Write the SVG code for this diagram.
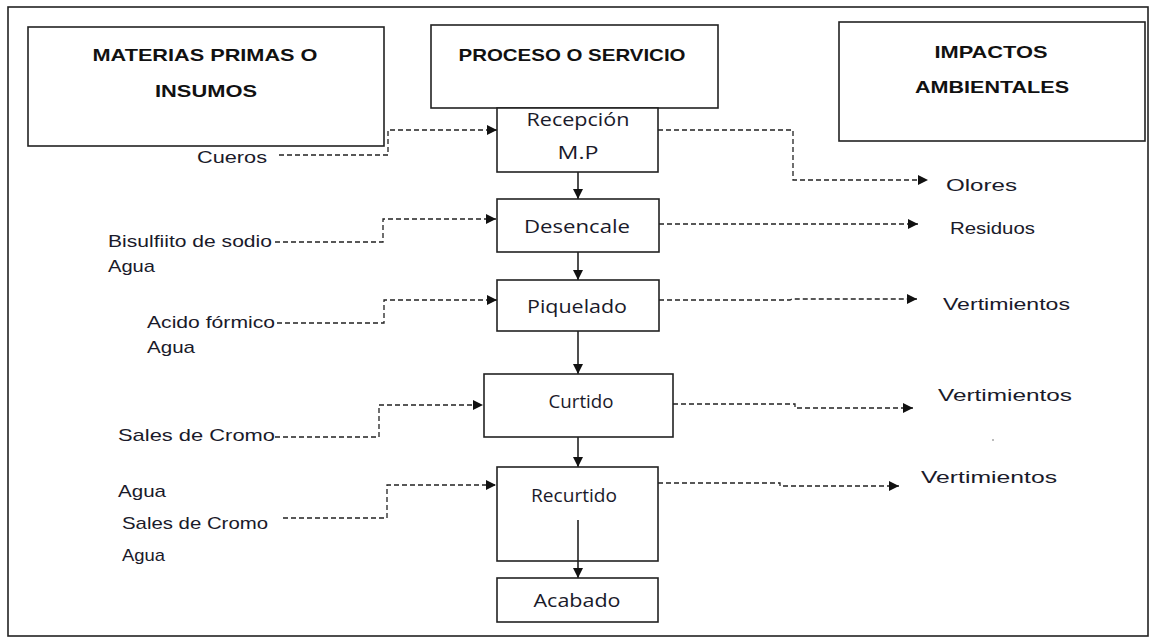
<svg xmlns="http://www.w3.org/2000/svg" width="1156" height="643" viewBox="0 0 1156 643">
<style>
.box{fill:#fff;stroke:#222;stroke-width:1.6}
.hdr{font-family:"Liberation Sans","Noto Sans",sans-serif;font-weight:bold;font-size:17px;fill:#111;text-anchor:middle}
.lbl{font-family:"Open Sans","Liberation Sans",sans-serif;font-size:18px;fill:#1a1a2a;text-anchor:middle}
.txt{font-family:"Liberation Sans","Noto Sans",sans-serif;font-size:17px;fill:#1a1a2a}
.dash{fill:none;stroke:#222;stroke-width:1.3;stroke-dasharray:5,3}
.solid{fill:none;stroke:#222;stroke-width:1.6}
</style>
<defs>
<marker id="ah" viewBox="0 0 10 10" refX="10" refY="5" markerWidth="10" markerHeight="10" markerUnits="userSpaceOnUse" orient="auto">
<path d="M0,0 L10,5 L0,10 Z" fill="#111"/>
</marker>
</defs>
<rect x="0" y="0" width="1156" height="643" fill="#fff"/>
<rect x="8" y="7" width="1140" height="629" fill="none" stroke="#222" stroke-width="1.6"/>

<g id="hdr-materias">
<rect class="box" x="28" y="27" width="356" height="119"/>
<text class="hdr" x="205" y="61" textLength="225" lengthAdjust="spacingAndGlyphs">MATERIAS PRIMAS O</text>
<text class="hdr" x="206" y="97" textLength="102" lengthAdjust="spacingAndGlyphs">INSUMOS</text>
</g>
<g id="hdr-impactos">
<rect class="box" x="839" y="22" width="306" height="119"/>
<text class="hdr" x="991" y="58" textLength="113" lengthAdjust="spacingAndGlyphs">IMPACTOS</text>
<text class="hdr" x="992" y="93" textLength="154" lengthAdjust="spacingAndGlyphs">AMBIENTALES</text>
</g>

<g id="connectors">
<line class="solid" x1="578" y1="172" x2="578" y2="199" marker-end="url(#ah)"/>
<line class="solid" x1="578" y1="252" x2="578" y2="280" marker-end="url(#ah)"/>
<line class="solid" x1="578" y1="331" x2="578" y2="374" marker-end="url(#ah)"/>
<line class="solid" x1="578" y1="437" x2="578" y2="467" marker-end="url(#ah)"/>
<path class="dash" d="M279,155 H388 V130 H497" marker-end="url(#ah)"/>
<path class="dash" d="M275,242 H383 V219 H496" marker-end="url(#ah)"/>
<path class="dash" d="M277,323 H384 V300 H497" marker-end="url(#ah)"/>
<path class="dash" d="M275,437 H379 V405 H483" marker-end="url(#ah)"/>
<path class="dash" d="M283,518 H387 V485 H496" marker-end="url(#ah)"/>
<path class="dash" d="M658,130 H793 V180 H928" marker-end="url(#ah)"/>
<path class="dash" d="M659,224 H918" marker-end="url(#ah)"/>
<path class="dash" d="M659,300 H790 L792,299 H917" marker-end="url(#ah)"/>
<path class="dash" d="M673,404 H795 V408 H913" marker-end="url(#ah)"/>
<path class="dash" d="M658,483 H780 V486 H899" marker-end="url(#ah)"/>
</g>

<g id="hdr-proceso">
<rect class="box" x="431" y="25" width="287" height="83"/>
<text class="hdr" x="572" y="61" textLength="227" lengthAdjust="spacingAndGlyphs">PROCESO O SERVICIO</text>
</g>

<g id="recepcion">
<rect class="box" x="497" y="108" width="161" height="64"/>
<text class="lbl" x="578" y="126" textLength="103" lengthAdjust="spacingAndGlyphs">Recepción</text>
<text class="lbl" x="578" y="159" textLength="41" lengthAdjust="spacingAndGlyphs">M.P</text>
</g>
<g id="desencale">
<rect class="box" x="497" y="199" width="162" height="53"/>
<text class="lbl" x="577" y="233" textLength="106" lengthAdjust="spacingAndGlyphs">Desencale</text>
</g>
<g id="piquelado">
<rect class="box" x="497" y="280" width="162" height="51"/>
<text class="lbl" x="577" y="313" textLength="100" lengthAdjust="spacingAndGlyphs">Piquelado</text>
</g>
<g id="curtido">
<rect class="box" x="484" y="374" width="189" height="63"/>
<text class="lbl" x="581" y="408" textLength="65" lengthAdjust="spacingAndGlyphs">Curtido</text>
</g>
<g id="recurtido">
<rect class="box" x="497" y="467" width="161" height="94"/>
<text class="lbl" x="574" y="502" textLength="86" lengthAdjust="spacingAndGlyphs">Recurtido</text>
</g>
<line class="solid" x1="578" y1="520" x2="578" y2="578" marker-end="url(#ah)"/>
<g id="acabado">
<rect class="box" x="497" y="578" width="161" height="44"/>
<text class="lbl" x="577" y="607" textLength="87" lengthAdjust="spacingAndGlyphs">Acabado</text>
</g>

<g id="inputs">
<text class="txt" x="197" y="163" textLength="70" lengthAdjust="spacingAndGlyphs">Cueros</text>
<text class="txt" x="108" y="247" textLength="164" lengthAdjust="spacingAndGlyphs">Bisulfiito de sodio</text>
<text class="txt" x="108" y="272" textLength="47" lengthAdjust="spacingAndGlyphs">Agua</text>
<text class="txt" x="147" y="328" textLength="128" lengthAdjust="spacingAndGlyphs">Acido fórmico</text>
<text class="txt" x="147" y="353" textLength="48" lengthAdjust="spacingAndGlyphs">Agua</text>
<text class="txt" x="118" y="441" textLength="157" lengthAdjust="spacingAndGlyphs">Sales de Cromo</text>
<text class="txt" x="118" y="497" textLength="48" lengthAdjust="spacingAndGlyphs">Agua</text>
<text class="txt" x="122" y="529" textLength="146" lengthAdjust="spacingAndGlyphs">Sales de Cromo</text>
<text class="txt" x="122" y="561" textLength="43" lengthAdjust="spacingAndGlyphs">Agua</text>
</g>
<g id="outputs">
<text class="txt" x="946" y="191" textLength="71" lengthAdjust="spacingAndGlyphs">Olores</text>
<text class="txt" x="950" y="234" textLength="85" lengthAdjust="spacingAndGlyphs">Residuos</text>
<text class="txt" x="943" y="310" textLength="127" lengthAdjust="spacingAndGlyphs">Vertimientos</text>
<text class="txt" x="938" y="401" textLength="134" lengthAdjust="spacingAndGlyphs">Vertimientos</text>
<text class="txt" x="921" y="483" textLength="136" lengthAdjust="spacingAndGlyphs">Vertimientos</text>
<circle cx="993" cy="440" r="0.8" fill="#666"/>
</g>
</svg>
